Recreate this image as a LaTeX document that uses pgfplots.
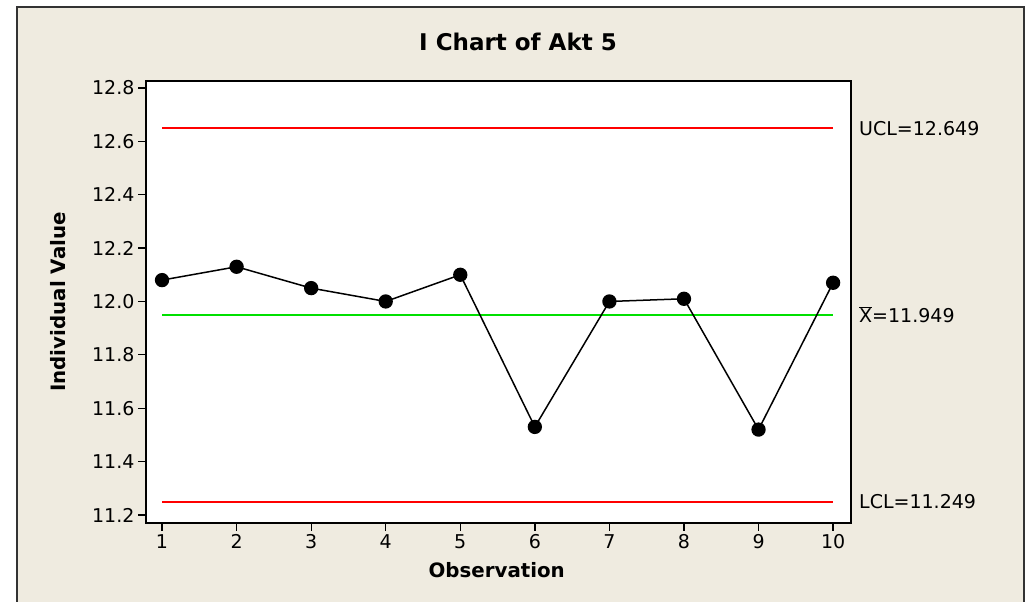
\documentclass[border=0pt]{standalone}
\usepackage{pgfplots}
\pgfplotsset{compat=1.18}
\usepackage{fontspec}
\setmainfont{DejaVu Sans}
\definecolor{bgframe}{HTML}{EFEBE0}
\definecolor{ucl}{HTML}{FF0000}
\definecolor{cl}{HTML}{00E000}

\begin{document}
\begin{tikzpicture}[x=1pt,y=1pt]
% page is 1026 x 602 (1 px = 1 pt)
\path[use as bounding box] (0,0) rectangle (1026,602);
\fill[white] (0,0) rectangle (1026,602);
\filldraw[fill=bgframe, draw=black!80, line width=1.6pt] (17,595) rectangle (1024,-10);

\begin{axis}[
    at={(146pt,79pt)}, anchor=south west,
    scale only axis,
    width=705pt, height=442pt,
    xmin=0.785, xmax=10.24,
    ymin=11.17, ymax=12.826,
    xtick={1,...,10},
    ytick={11.2,11.4,...,12.81},
    yticklabel style={/pgf/number format/.cd, fixed, fixed zerofill, precision=1},
    /pgf/number format/assume math mode=true,
    tick align=outside, tick pos=left,
    major tick length=8pt,
    tick style={black, line width=1.3pt},
    axis line style={black, line width=1.7pt},
    axis background/.style={fill=white},
    font=\fontsize{19}{22}\selectfont,
    ticklabel style={font=\fontsize{19}{22}\selectfont},
    title={\bfseries I Chart of Akt 5},
    title style={at={(axis description cs:0.5277,1.0543)}, anchor=base,
                 font=\fontsize{23}{26}\selectfont},
    xlabel={\bfseries Observation},
    xlabel style={at={(axis description cs:0.4975,-0.1244)}, anchor=base,
                  font=\fontsize{19.8}{22}\selectfont},
    ylabel={\bfseries Individual Value},
    ylabel style={at={(axis description cs:-0.1135,0.5)}, anchor=base,
                  font=\fontsize{19.8}{22}\selectfont},
    clip=false,
]
% control limits
\addplot[ucl, line width=1.6pt] coordinates {(1,12.649) (10,12.649)};
\addplot[cl, line width=1.6pt] coordinates {(1,11.949) (10,11.949)};
\addplot[ucl, line width=1.6pt] coordinates {(1,11.249) (10,11.249)};

% individual values
\addplot[black, line width=1.5pt, mark=*, mark size=6.4pt,
         mark options={fill=black}] coordinates {
    (1,12.08) (2,12.13) (3,12.05) (4,12.00) (5,12.10)
    (6,11.53) (7,12.00) (8,12.01) (9,11.52) (10,12.07)
};

\node[anchor=base west, inner sep=0pt, xshift=8pt, yshift=-7pt]
    at (axis cs:10.24,12.649) {UCL=12.649};
\node[anchor=base west, inner sep=0pt, xshift=8pt, yshift=-7pt]
    at (axis cs:10.24,11.949) {$\overline{\hbox{X}}$=11.949};
\node[anchor=base west, inner sep=0pt, xshift=8pt, yshift=-7pt]
    at (axis cs:10.24,11.249) {LCL=11.249};
\end{axis}
\end{tikzpicture}
\end{document}
